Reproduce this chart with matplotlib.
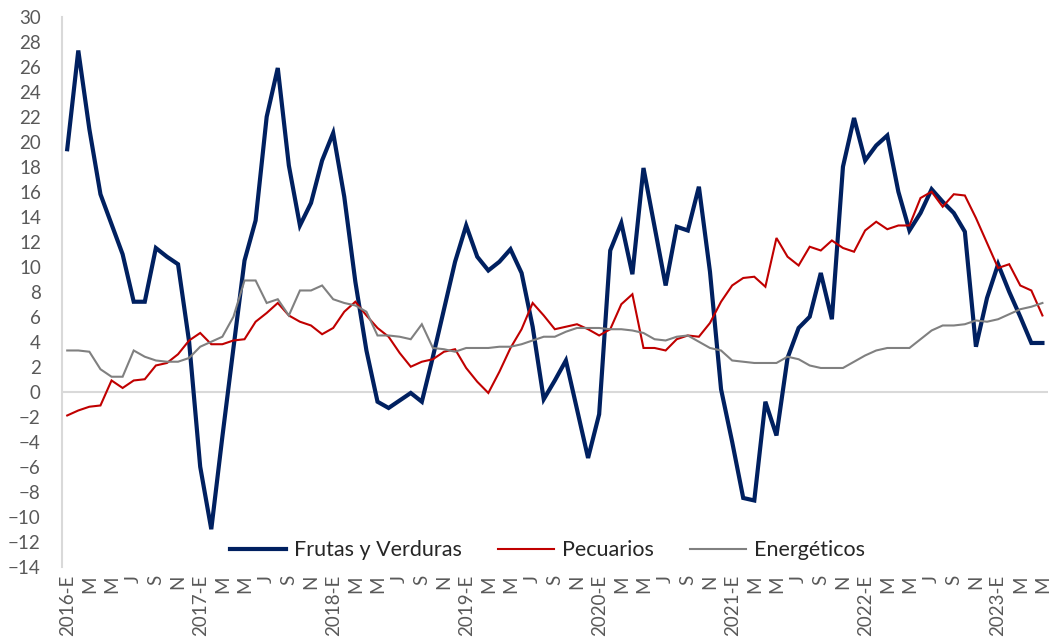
import matplotlib
matplotlib.use("Agg")
import matplotlib.pyplot as plt
import numpy as np

# Monthly series, January 2016 through May 2023 (annual % change)
frutas_verduras = [
    19.4, 27.3, 21.0, 15.8, 13.4, 11.0, 7.2, 7.2, 11.5, 10.8, 10.2, 4.0,
    -6.0, -11.0, -3.6, 3.5, 10.5, 13.7, 22.0, 25.9, 18.1, 13.3, 15.1, 18.5,
    20.7, 15.6, 8.8, 3.3, -0.8, -1.3, -0.7, -0.1, -0.8, 2.8, 6.6, 10.4,
    13.3, 10.8, 9.7, 10.4, 11.4, 9.5, 5.2, -0.6, 0.9, 2.5, -1.4, -5.3,
    -1.8, 11.3, 13.5, 9.4, 17.9, 13.2, 8.5, 13.2, 12.9, 16.4, 9.6, 0.2,
    -4.0, -8.5, -8.7, -0.8, -3.5, 2.7, 5.1, 6.0, 9.5, 5.8, 18.0, 21.9,
    18.5, 19.7, 20.5, 16.0, 12.9, 14.3, 16.2, 15.2, 14.3, 12.8, 3.6, 7.5,
    10.2, 8.0, 6.0, 3.9, 3.9,
]
pecuarios = [
    -1.9, -1.5, -1.2, -1.1, 0.9, 0.3, 0.9, 1.0, 2.1, 2.3, 3.0, 4.1,
    4.7, 3.8, 3.8, 4.1, 4.2, 5.6, 6.3, 7.1, 6.1, 5.6, 5.3, 4.6,
    5.1, 6.4, 7.2, 6.1, 5.1, 4.4, 3.1, 2.0, 2.4, 2.6, 3.2, 3.4,
    1.9, 0.8, -0.1, 1.6, 3.5, 5.0, 7.1, 6.1, 5.0, 5.2, 5.4, 5.0,
    4.5, 5.0, 7.0, 7.8, 3.5, 3.5, 3.3, 4.2, 4.5, 4.4, 5.5, 7.2,
    8.5, 9.1, 9.2, 8.4, 12.3, 10.8, 10.1, 11.6, 11.3, 12.1, 11.5, 11.2,
    12.9, 13.6, 13.0, 13.3, 13.3, 15.5, 16.0, 14.8, 15.8, 15.7, 13.9, 11.9,
    9.9, 10.2, 8.5, 8.1, 6.1,
]
energeticos = [
    3.3, 3.3, 3.2, 1.8, 1.2, 1.2, 3.3, 2.8, 2.5, 2.4, 2.4, 2.7,
    3.6, 4.0, 4.4, 6.0, 8.9, 8.9, 7.1, 7.4, 6.1, 8.1, 8.1, 8.5,
    7.4, 7.1, 6.9, 6.4, 4.5, 4.5, 4.4, 4.2, 5.4, 3.5, 3.4, 3.2,
    3.5, 3.5, 3.5, 3.6, 3.6, 3.8, 4.1, 4.4, 4.4, 4.8, 5.1, 5.1,
    5.1, 5.0, 5.0, 4.9, 4.7, 4.2, 4.1, 4.4, 4.5, 4.0, 3.5, 3.3,
    2.5, 2.4, 2.3, 2.3, 2.3, 2.8, 2.6, 2.1, 1.9, 1.9, 1.9, 2.4,
    2.9, 3.3, 3.5, 3.5, 3.5, 4.2, 4.9, 5.3, 5.3, 5.4, 5.7, 5.6,
    5.8, 6.2, 6.6, 6.8, 7.1,
]

series_names = ["Frutas y Verduras", "Pecuarios", "Energéticos"]
series_colors = ["#002060", "#C00000", "#808080"]
series_widths = [3.0, 1.5, 1.5]

month_abbr = ["E", "M", "M", "J", "S", "N"]  # bimonthly labels: Ene, Mar, May, Jul, Sep, Nov
years = list(range(2016, 2024))

n = len(frutas_verduras)
x = np.arange(n)

tick_pos, tick_lab = [], []
for k in range(0, n, 2):
    year = years[k // 12]
    m = (k % 12) // 2
    tick_pos.append(k)
    tick_lab.append(f"{year}-E" if m == 0 else month_abbr[m])

plt.rcParams["font.family"] = ["Lato", "DejaVu Sans"]

fig = plt.figure(figsize=(10.56, 6.44), dpi=100)
ax = fig.add_axes([0.0584, 0.12, 0.934, 0.854])

for vals, name, col, lw in zip([frutas_verduras, pecuarios, energeticos],
                               series_names, series_colors, series_widths):
    ax.plot(x, vals, color=col, lw=lw, label=name, solid_joinstyle="miter")

ax.axhline(0, color="#d9d9d9", lw=1.5, zorder=0)

ax.set_xlim(-0.5, n - 0.5)
ax.set_ylim(-14, 30)
ax.set_yticks(np.arange(-14, 31, 2))
ax.set_xticks(tick_pos)
ax.set_xticklabels(tick_lab, rotation=90)

for s in ["top", "right", "bottom"]:
    ax.spines[s].set_visible(False)
ax.spines["left"].set_color("#d9d9d9")
ax.spines["left"].set_linewidth(1.5)

ax.tick_params(axis="both", length=0, labelsize=13.5, colors="#595959")
ax.tick_params(axis="y", pad=15)
ax.tick_params(axis="x", pad=6)

leg = ax.legend(loc="center", bbox_to_anchor=(0.4926, 0.03), ncol=3,
                frameon=False, fontsize=15.5, handlelength=2.6,
                handletextpad=0.35, columnspacing=1.7)
for t in leg.get_texts():
    t.set_color("#262626")

fig.savefig("out.png", dpi=100)
